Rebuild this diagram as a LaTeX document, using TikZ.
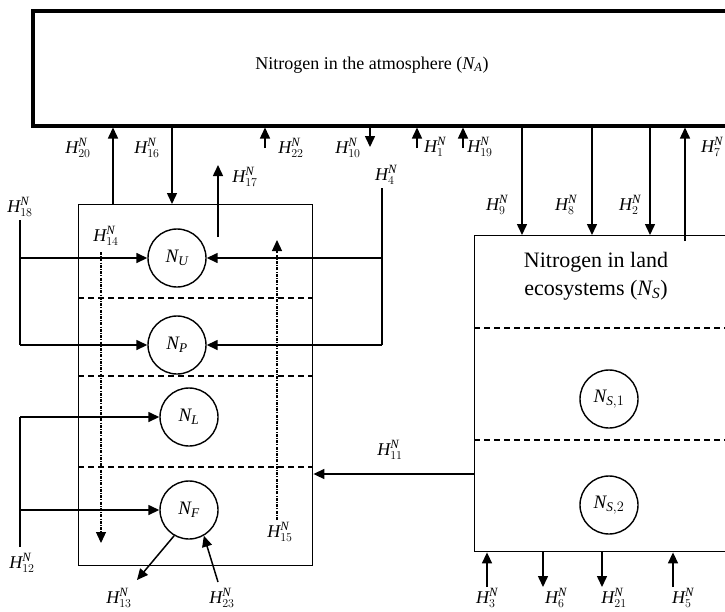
\documentclass[tikz,border=0pt]{standalone}
\usepackage{amsmath}
\usepackage{fontspec}
\setmainfont{Liberation Serif}
\usetikzlibrary{arrows.meta}
\newcommand{\hflux}[1]{$\textit{H}^{\textit{N}}_{#1}$}
\tikzset{
  box/.style={draw=black, line width=1.4pt, inner sep=0pt, anchor=north west},
  pool/.style={circle, draw=black, line width=1.4pt, minimum size=58pt, inner sep=0pt, font=\fontsize{19}{22}\selectfont},
  arrow/.style={-{Triangle[length=11pt,width=10pt]}, line width=1.5pt},
  dotarrow/.style={arrow, line width=1.2pt, dash pattern=on 3pt off 1.2pt on 1pt off 1.2pt},
  divider/.style={line width=1.4pt, dash pattern=on 6pt off 4pt},
  flowline/.style={line width=1.5pt},
  lbl/.style={inner sep=0pt, font=\fontsize{18}{20}\selectfont}
}

\begin{document}
\begin{tikzpicture}[x=1pt, y=-1pt]
\useasboundingbox (0,0) rectangle (725,611);
% reservoirs
\node[box, line width=3.5pt, minimum width=740pt, minimum height=115pt] (atm) at (31,9) {};
\node[font=\fontsize{18}{20}\selectfont] (atmtext) at (372,65) {Nitrogen in the atmosphere ($\textit{N}_{\textit{A}}$)};
\node[box, minimum width=234pt, minimum height=361pt] (plant) at (78,204) {};
\node[box, minimum width=300pt, minimum height=316pt] (land) at (474,235) {};
\node[align=center, font=\fontsize{22}{28}\selectfont] (landtext) at (596,276) {Nitrogen in land\\ecosystems ($\textit{N}_{\textit{S}}$)};
\foreach \y in {298,376,467}
  \draw[divider] (plant.west |- 0,\y) -- (plant.east |- 0,\y);
\foreach \y in {328,440}
  \draw[divider] (land.west |- 0,\y) -- (land.east |- 0,\y);
\node[pool] (NU) at (177,258) {$\textit{N}_{\textit{U}}$};
\node[pool] (NP) at (177,345) {$\textit{N}_{\textit{P}}$};
\node[pool] (NL) at (189,417) {$\textit{N}_{\textit{L}}$};
\node[pool] (NF) at (189,510) {$\textit{N}_{\textit{F}}$};
\node[pool] (NS1) at (609,399) {$\textit{N}_{\textit{S},1}$};
\node[pool] (NS2) at (609,505) {$\textit{N}_{\textit{S},2}$};

% atmosphere <-> plants
\draw[arrow] (113,0 |- plant.north) -- (113,0 |- atm.south);
\draw[arrow] (172,0 |- atm.south) -- (172,0 |- plant.north);
\foreach \x/\n in {265/22, 417/1, 463/19} {
  \coordinate (up\n) at (\x,148);
  \draw[arrow] (up\n) -- (up\n |- atm.south);
}
\coordinate (dn10) at (370,147);
\draw[arrow] (dn10 |- atm.south) -- (dn10);
\coordinate (h17a) at (218,237);
\coordinate (h17b) at (218,165);
\draw[arrow] (h17a) -- (h17b);

% inputs to the pools
\coordinate (h4top) at (382,188);
\draw[flowline] (h4top) -- (h4top |- NP.east);
\draw[arrow] (h4top |- NU.east) -- (NU.east);
\draw[arrow] (h4top |- NP.east) -- (NP.east);
\coordinate (h18top) at (20,220);
\draw[flowline] (h18top) -- (h18top |- NP.west);
\draw[arrow] (h18top |- NU.west) -- (NU.west);
\draw[arrow] (h18top |- NP.west) -- (NP.west);
\coordinate (h12bot) at (20,547);
\draw[flowline] (h12bot) -- (h12bot |- NL.west);
\draw[arrow] (h12bot |- NL.west) -- (NL.west);
\draw[arrow] (h12bot |- NF.west) -- (NF.west);
\coordinate (h14top) at (101,252);
\coordinate (h14bot) at (101,543);
\draw[dotarrow] (h14top) -- (h14bot);
\coordinate (h15bot) at (277,520);
\coordinate (h15top) at (277,240);
\draw[dotarrow] (h15bot) -- (h15top);
\draw[arrow] (land.west |- 0,474) -- (plant.east |- 0,474);
\coordinate (h13end) at (137,580);
\coordinate (h23start) at (218,582);
\draw[arrow] (NF.240) -- (h13end);
\draw[arrow] (h23start) -- (NF.300);

% atmosphere <-> land
\foreach \x in {522,592,650}
  \draw[arrow] (\x,0 |- atm.south) -- (\x,0 |- land.north);
\coordinate (h7start) at (685,241);
\draw[arrow] (h7start) -- (h7start |- atm.south);
\foreach \x/\n in {487/3, 673/5} {
  \coordinate (in\n) at (\x,587);
  \draw[arrow] (in\n) -- (in\n |- land.south);
}
\foreach \x/\n in {543/6, 602/21} {
  \coordinate (out\n) at (\x,587);
  \draw[arrow] (out\n |- land.south) -- (out\n);
}

% labels
\node[lbl] (h20) at (78,148) {\hflux{20}};
\node[lbl] (h16) at (147,148) {\hflux{16}};
\node[lbl] (h22) at (291,148) {\hflux{22}};
\node[lbl] (h10) at (348,148) {\hflux{10}};
\node[lbl] (h1) at (435,147) {\hflux{1}};
\node[lbl] (h19) at (480,147) {\hflux{19}};
\node[lbl] (h7) at (712,147) {\hflux{7}};
\node[lbl] (h17) at (245,177) {\hflux{17}};
\node[lbl] (h4) at (386,175) {\hflux{4}};
\node[lbl] (h18) at (20,207) {\hflux{18}};
\node[lbl] (h14) at (106,236) {\hflux{14}};
\node[lbl] (h9) at (497,205) {\hflux{9}};
\node[lbl] (h8) at (566,205) {\hflux{8}};
\node[lbl] (h2) at (630,205) {\hflux{2}};
\node[lbl] (h11) at (390,450) {\hflux{11}};
\node[lbl] (h15) at (280,532) {\hflux{15}};
\node[lbl] (h12) at (22,563) {\hflux{12}};
\node[lbl] (h13) at (119,598) {\hflux{13}};
\node[lbl] (h23) at (222,598) {\hflux{23}};
\node[lbl] (h3) at (487,598) {\hflux{3}};
\node[lbl] (h6) at (556,598) {\hflux{6}};
\node[lbl] (h21) at (614,598) {\hflux{21}};
\node[lbl] (h5) at (683,598) {\hflux{5}};
\end{tikzpicture}
\end{document}
